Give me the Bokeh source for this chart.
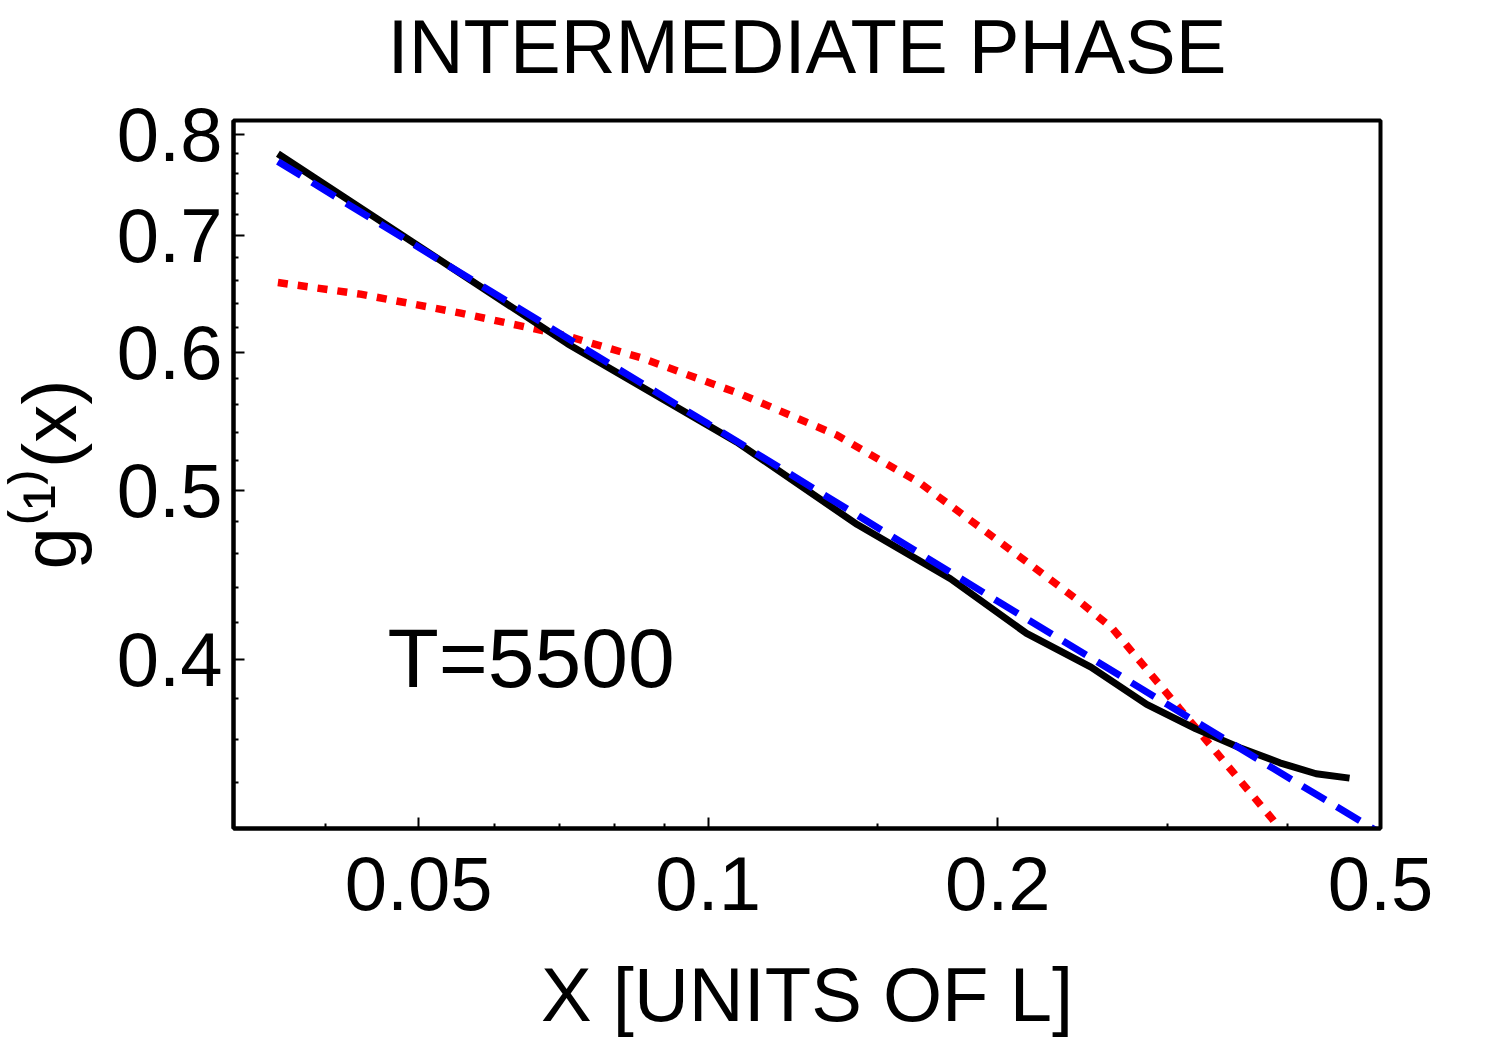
from bokeh.plotting import figure
from bokeh.models import Range1d, FixedTicker, Label, Title
from bokeh.embed import file_html
from bokeh.resources import INLINE

# ---- data ----
x_data = [0.0357, 0.0714, 0.1071, 0.1429, 0.1786, 0.2143, 0.25, 0.2857,
          0.3214, 0.3571, 0.3929, 0.4286, 0.4643]
g_data = [0.780, 0.607, 0.533, 0.478, 0.445, 0.414, 0.396, 0.377,
          0.365, 0.356, 0.349, 0.344, 0.342]

x_power = [0.0357, 0.1, 0.2, 0.3, 0.5]
g_power = [0.772, 0.546, 0.432, 0.377, 0.318]

x_exp = [0.0357, 0.0435, 0.0553, 0.0707, 0.085, 0.108, 0.136, 0.166,
         0.211, 0.243, 0.263, 0.309, 0.386, 0.40]
g_exp = [0.658, 0.648, 0.632, 0.614, 0.596, 0.568, 0.538, 0.505,
         0.458, 0.432, 0.417, 0.375, 0.324, 0.315]

x_major = [0.05, 0.1, 0.2, 0.5]
x_major_labels = ["0.05", "0.1", "0.2", "0.5"]
x_minor = [0.04, 0.06, 0.07, 0.08, 0.09, 0.15, 0.3, 0.4]
y_major = [0.4, 0.5, 0.6, 0.7, 0.8]
y_major_labels = ["0.4", "0.5", "0.6", "0.7", "0.8"]
y_minor = [0.34, 0.36, 0.38, 0.42, 0.44, 0.46, 0.48, 0.52, 0.54, 0.56,
           0.58, 0.62, 0.64, 0.66, 0.68, 0.72, 0.74, 0.76, 0.78]

title_text = "INTERMEDIATE PHASE"
xlabel_text = "X [UNITS OF L]"
ylabel_text = "g\u207D\u00B9\u207E(x)"
note_text = "T=5500"

FONT = "Liberation Sans"

p = figure(width=1500, height=1047, x_axis_type="log", y_axis_type="log",
           x_range=Range1d(0.0321, 0.5), y_range=Range1d(0.32, 0.815),
           output_backend="svg", toolbar_location=None, title=None,
           min_border_left=233, min_border_right=120,
           min_border_top=120, min_border_bottom=219)

p.grid.visible = False
p.background_fill_color = "white"
p.border_fill_color = "white"
p.outline_line_color = "black"
p.outline_line_width = 4

p.line(x_exp, g_exp, line_color="#FF0000", line_width=7.5, line_dash="10 10")
p.line(x_data, g_data, line_color="black", line_width=7, line_join="round")
p.line(x_power, g_power, line_color="#0000FF", line_width=7, line_dash="27 13")

p.xaxis.ticker = FixedTicker(ticks=x_major, minor_ticks=x_minor)
p.yaxis.ticker = FixedTicker(ticks=y_major, minor_ticks=y_minor)
p.xaxis.major_label_overrides = dict(zip(x_major, x_major_labels))
p.yaxis.major_label_overrides = dict(zip(y_major, y_major_labels))

for ax in (p.xaxis[0], p.yaxis[0]):
    ax.axis_line_width = 4
    ax.axis_line_color = "black"
    ax.major_tick_in = 11
    ax.major_tick_out = 0
    ax.minor_tick_in = 5
    ax.minor_tick_out = 0
    ax.major_tick_line_width = 2
    ax.minor_tick_line_width = 2
    ax.major_label_text_font = FONT
    ax.major_label_text_font_size = "76px"
    ax.major_label_text_color = "black"
    ax.axis_label_text_font = FONT
    ax.axis_label_text_font_size = "76px"
    ax.axis_label_text_font_style = "normal"
    ax.axis_label_text_color = "black"

p.xaxis.major_label_standoff = 28
p.yaxis.major_label_standoff = 11
p.xaxis.axis_label = xlabel_text
p.xaxis.axis_label_standoff = 39
p.yaxis.axis_label = ylabel_text
p.yaxis.axis_label_standoff = 22

# invisible spacer next to the frame, then the real title above it
p.add_layout(Title(text=" ", text_font=FONT, text_font_size="10px",
                   text_color="white", standoff=16), "above")
p.add_layout(Title(text=title_text, align="center", vertical_align="top",
                   text_font=FONT, text_font_size="76px", text_font_style="normal",
                   text_color="black", standoff=2), "above")

p.add_layout(Label(x=154, y=171, x_units="screen", y_units="screen", text=note_text,
                   text_font=FONT, text_font_size="84px", text_color="black",
                   text_align="left", text_baseline="alphabetic"))

open("out.html", "w").write(file_html(p, INLINE))
